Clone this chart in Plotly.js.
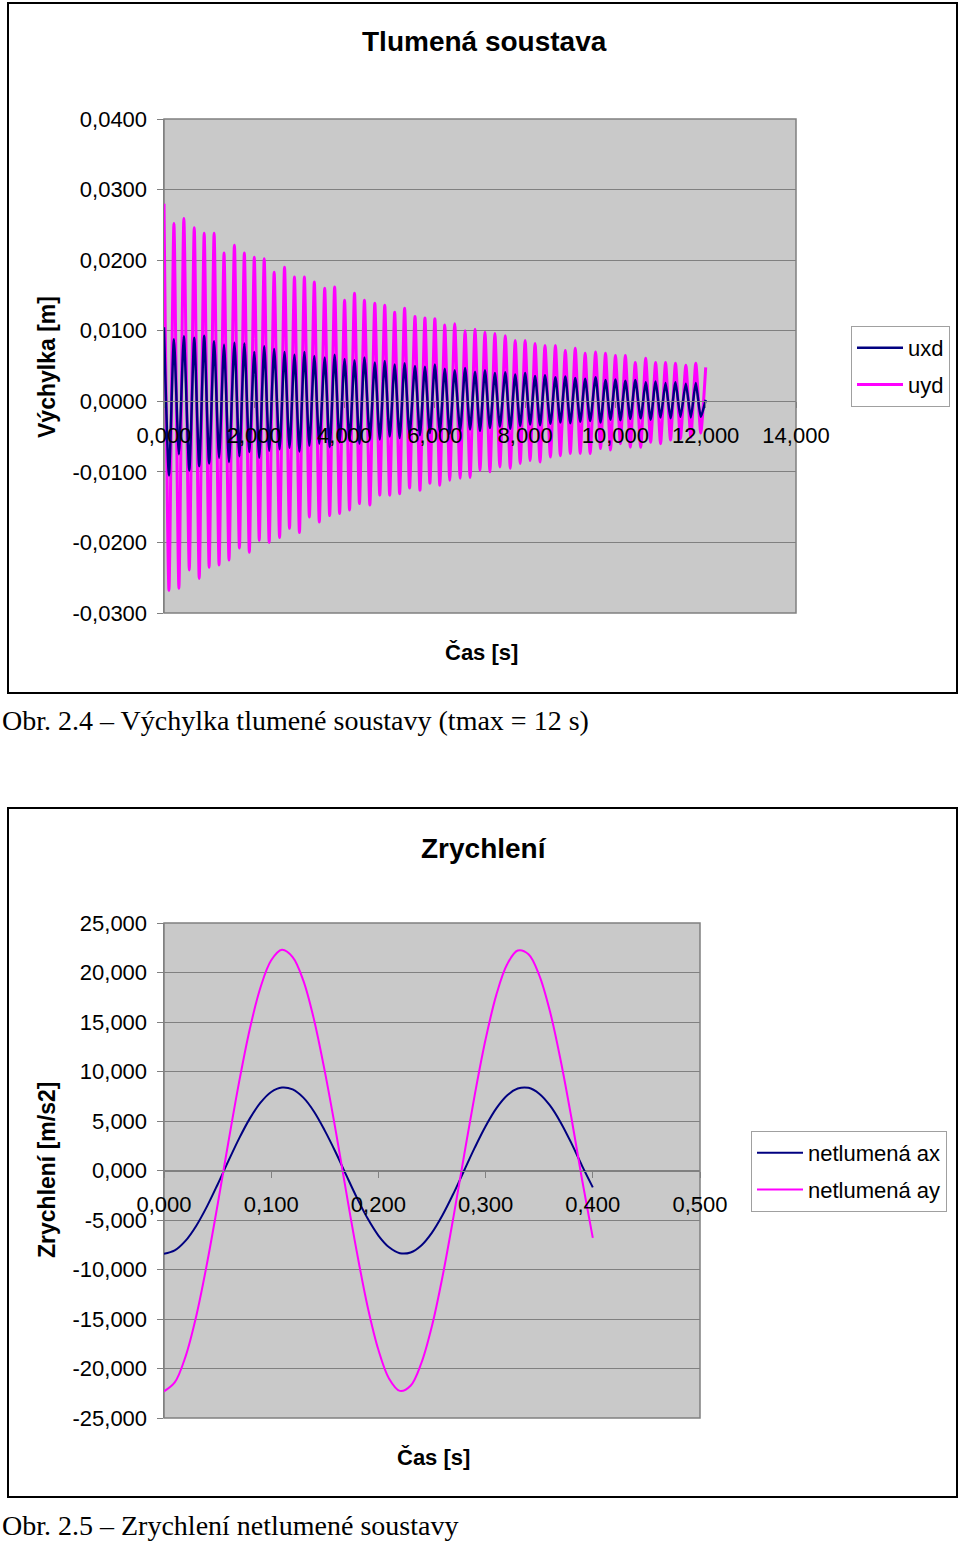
<!DOCTYPE html>
<html>
<head>
<meta charset="utf-8">
<script src="https://cdn.plot.ly/plotly-3.0.1.min.js"></script>
<style>html,body{margin:0;padding:0;background:#fff;}#chart{width:960px;height:1541px;}</style>
</head>
<body>
<div id="chart"></div>
<script>
// ---------- Chart 1: Tlumená soustava (displacement) ----------
const tTop = [0.00,0.22,0.44,0.67,0.89,1.11,1.33,1.56,1.78,2.00,2.22,2.44,2.67,2.89,3.11,3.33,3.56,3.78,4.00,4.22,4.44,4.67,4.89,5.11,5.33,5.56,5.78,6.00,6.22,6.44,6.67,6.89,7.11,7.33,7.56,7.78,8.00,8.22,8.44,8.67,8.89,9.11,9.33,9.56,9.78,10.00,10.22,10.44,10.67,10.89,11.11,11.33,11.56,11.78,12.00];
const tBottom = [0.11,0.33,0.56,0.78,1.00,1.22,1.44,1.67,1.89,2.11,2.33,2.56,2.78,3.00,3.22,3.44,3.67,3.89,4.11,4.33,4.56,4.78,5.00,5.22,5.44,5.67,5.89,6.11,6.33,6.56,6.78,7.00,7.22,7.44,7.67,7.89,8.11,8.33,8.56,8.78,9.00,9.22,9.44,9.67,9.89,10.11,10.33,10.56,10.78,11.00,11.22,11.44,11.67,11.89];

const uydTop = [0.0280,0.0252,0.0259,0.0246,0.0238,0.0238,0.0210,0.0221,0.0210,0.0204,0.0202,0.0183,0.0190,0.0176,0.0176,0.0169,0.0160,0.0162,0.0143,0.0153,0.0143,0.0139,0.0136,0.0126,0.0132,0.0120,0.0118,0.0117,0.0108,0.0110,0.0100,0.0102,0.0098,0.0096,0.0093,0.0086,0.0086,0.0082,0.0079,0.0079,0.0072,0.0075,0.0068,0.0070,0.0068,0.0065,0.0065,0.0055,0.0061,0.0055,0.0055,0.0054,0.0051,0.0054,0.0048];
const uydBottom = [-0.0268,-0.0265,-0.0239,-0.0251,-0.0235,-0.0232,-0.0225,-0.0208,-0.0214,-0.0197,-0.0200,-0.0193,-0.0180,-0.0186,-0.0164,-0.0171,-0.0162,-0.0159,-0.0154,-0.0145,-0.0147,-0.0133,-0.0133,-0.0131,-0.0123,-0.0126,-0.0116,-0.0119,-0.0112,-0.0109,-0.0108,-0.0098,-0.0100,-0.0093,-0.0095,-0.0088,-0.0084,-0.0086,-0.0079,-0.0077,-0.0074,-0.0074,-0.0074,-0.0067,-0.0069,-0.0060,-0.0065,-0.0065,-0.0058,-0.0060,-0.0055,-0.0053,-0.0051,-0.0045];

const uxdTop = [0.0105,0.0088,0.0092,0.0090,0.0093,0.0085,0.0080,0.0083,0.0082,0.0070,0.0078,0.0074,0.0070,0.0066,0.0070,0.0064,0.0062,0.0066,0.0060,0.0058,0.0062,0.0055,0.0057,0.0052,0.0054,0.0050,0.0049,0.0052,0.0046,0.0044,0.0047,0.0042,0.0044,0.0040,0.0041,0.0038,0.0040,0.0036,0.0037,0.0034,0.0035,0.0033,0.0032,0.0034,0.0030,0.0031,0.0029,0.0030,0.0027,0.0028,0.0026,0.0027,0.0025,0.0026,0.0002];
const uxdBottom = [-0.0105,-0.0075,-0.0098,-0.0092,-0.0088,-0.0080,-0.0086,-0.0078,-0.0072,-0.0080,-0.0070,-0.0068,-0.0066,-0.0071,-0.0063,-0.0060,-0.0065,-0.0058,-0.0056,-0.0060,-0.0052,-0.0054,-0.0050,-0.0052,-0.0047,-0.0048,-0.0045,-0.0043,-0.0046,-0.0041,-0.0040,-0.0042,-0.0038,-0.0036,-0.0039,-0.0035,-0.0033,-0.0034,-0.0032,-0.0030,-0.0031,-0.0029,-0.0028,-0.0030,-0.0026,-0.0027,-0.0025,-0.0024,-0.0026,-0.0023,-0.0024,-0.0022,-0.0023,-0.0022];

const x1TickVals = [0,2,4,6,8,10,12,14];
const x1TickText = ['0,000','2,000','4,000','6,000','8,000','10,000','12,000','14,000'];
const y1TickVals = [0.04,0.03,0.02,0.01,0,-0.01,-0.02,-0.03];
const y1TickText = ['0,0400','0,0300','0,0200','0,0100','0,0000','-0,0100','-0,0200','-0,0300'];

// ---------- Chart 2: Zrychlení (acceleration) ----------
const t2 = [0.00,0.01,0.02,0.03,0.04,0.05,0.06,0.07,0.08,0.09,0.10,0.11,0.12,0.13,0.14,0.15,0.16,0.17,0.18,0.19,0.20,0.21,0.22,0.23,0.24,0.25,0.26,0.27,0.28,0.29,0.30,0.31,0.32,0.33,0.34,0.35,0.36,0.37,0.38,0.39,0.40];
const ax = [-8.40,-8.07,-7.11,-5.60,-3.65,-1.41,0.94,3.22,5.24,6.85,7.93,8.38,8.19,7.36,5.94,4.03,1.87,-0.47,-2.77,-4.86,-6.57,-7.76,-8.35,-8.28,-7.57,-6.27,-4.47,-2.33,0.00,2.33,4.47,6.27,7.57,8.28,8.35,7.76,6.57,4.86,2.77,0.47,-1.70];
const ay = [-22.30,-21.41,-18.82,-14.74,-9.46,-3.46,2.83,8.90,14.27,18.49,21.23,22.29,21.56,19.18,15.21,10.01,4.13,-2.19,-8.30,-13.78,-18.11,-21.03,-22.26,-21.74,-19.47,-15.68,-10.61,-4.71,1.57,7.71,13.25,17.74,20.81,22.22,21.85,19.74,16.09,11.14,5.35,-0.93,-6.80];

const x2TickVals = [0,0.1,0.2,0.3,0.4,0.5];
const x2TickText = ['0,000','0,100','0,200','0,300','0,400','0,500'];
const y2TickVals = [25,20,15,10,5,0,-5,-10,-15,-20,-25];
const y2TickText = ['25,000','20,000','15,000','10,000','5,000','0,000','-5,000','-10,000','-15,000','-20,000','-25,000'];

// ---------- build interleaved series ----------
function interleave(tA, vA, tB, vB) {
  const t = [], v = [];
  for (let i = 0; i < tA.length; i++) {
    t.push(tA[i]); v.push(vA[i]);
    if (i < tB.length) { t.push(tB[i]); v.push(vB[i]); }
  }
  return {t, v};
}
const uxd = interleave(tTop, uxdTop, tBottom, uxdBottom);
const uyd = interleave(tTop, uydTop, tBottom, uydBottom);

const W = 960, H = 1541;
const px = x => x / W;
const py = y => 1 - y / H;

const NAVY = '#000080', MAG = '#ff00ff', GRID = '#808080';
const SANS = 'Liberation Sans, Arial, sans-serif';
const SERIF = 'Liberation Serif, Times New Roman, serif';

const traces = [
  {x: uyd.t, y: uyd.v, type: 'scatter', mode: 'lines', name: 'uyd', xaxis: 'x', yaxis: 'y',
   line: {color: MAG, width: 3, shape: 'spline', smoothing: 0.6}, legend: 'legend', legendgroup: 'b', legendrank: 2},
  {x: uxd.t, y: uxd.v, type: 'scatter', mode: 'lines', name: 'uxd', xaxis: 'x', yaxis: 'y',
   line: {color: NAVY, width: 2.5, shape: 'spline', smoothing: 0.6}, legend: 'legend', legendgroup: 'a', legendrank: 1},
  {x: t2, y: ax, type: 'scatter', mode: 'lines', name: 'netlumená ax', xaxis: 'x2', yaxis: 'y2',
   line: {color: NAVY, width: 2, shape: 'spline'}, legend: 'legend2', legendgroup: 'c', legendrank: 1},
  {x: t2, y: ay, type: 'scatter', mode: 'lines', name: 'netlumená ay', xaxis: 'x2', yaxis: 'y2',
   line: {color: MAG, width: 2, shape: 'spline'}, legend: 'legend2', legendgroup: 'd', legendrank: 2}
];

// plot areas (pixels)
const p1 = {l: 164, r: 796, t: 119, b: 613};
const p2 = {l: 164, r: 700, t: 923, b: 1418};
const y1Range = [-0.03, 0.04], y2Range = [-25, 25];
const y1Dom = [py(p1.b), py(p1.t)], y2Dom = [py(p2.b), py(p2.t)];
const zeroPos = (dom, rng) => dom[0] + (0 - rng[0]) / (rng[1] - rng[0]) * (dom[1] - dom[0]);

const tickFont = {family: SANS, size: 22, color: '#000'};

function xAxis(dom, rng, pos, vals, text) {
  return {domain: dom, range: rng, anchor: 'free', position: pos, tickmode: 'array', tickvals: vals, ticktext: text,
    showgrid: false, zeroline: false, showline: true, linecolor: GRID, linewidth: 1,
    ticks: 'outside', ticklen: 6, tickcolor: GRID, tickfont: tickFont, ticklabelstandoff: 8, fixedrange: true};
}
function yAxis(dom, rng, anchor, vals, text) {
  return {domain: dom, range: rng, anchor: anchor, tickmode: 'array', tickvals: vals, ticktext: text,
    showgrid: true, gridcolor: GRID, gridwidth: 1, zeroline: false, showline: true, linecolor: GRID, linewidth: 1.5,
    ticks: 'outside', ticklen: 6, tickcolor: GRID, tickfont: tickFont, ticklabelstandoff: 5, fixedrange: true};
}

const boxLine = {color: '#000', width: 2};
const ann = (text, x, y, opts) => Object.assign({text, x: px(x), y: py(y), xref: 'paper', yref: 'paper',
  showarrow: false, xanchor: 'center', yanchor: 'middle', font: {family: SANS, size: 23, color: '#000'}}, opts || {});

const legendStyle = {xanchor: 'left', yanchor: 'top', bgcolor: '#fff', bordercolor: '#a0a0a0', borderwidth: 1,
  font: {family: SANS, size: 22, color: '#000'}, itemwidth: 46, tracegroupgap: 5, traceorder: 'grouped'};

const layout = {
  width: W, height: H, margin: {l: 0, r: 0, t: 0, b: 0}, paper_bgcolor: '#fff', plot_bgcolor: '#c9c9c9',
  font: {family: SANS, size: 22, color: '#000'},
  showlegend: true,
  xaxis: xAxis([px(p1.l), px(p1.r)], [0, 14], zeroPos(y1Dom, y1Range), x1TickVals, x1TickText),
  yaxis: yAxis(y1Dom, y1Range, 'x', y1TickVals, y1TickText),
  xaxis2: xAxis([px(p2.l), px(p2.r)], [0, 0.5], zeroPos(y2Dom, y2Range), x2TickVals, x2TickText),
  yaxis2: yAxis(y2Dom, y2Range, 'x2', y2TickVals, y2TickText),
  legend: Object.assign({x: px(851), y: py(326)}, legendStyle),
  legend2: Object.assign({x: px(751), y: py(1131)}, legendStyle),
  shapes: [
    {type: 'rect', xref: 'paper', yref: 'paper', x0: px(8), x1: px(957), y0: py(693), y1: py(3), line: boxLine},
    {type: 'rect', xref: 'paper', yref: 'paper', x0: px(8), x1: px(957), y0: py(1497), y1: py(808), line: boxLine},
    {type: 'rect', xref: 'x domain', yref: 'y domain', x0: 0, x1: 1, y0: 0, y1: 1, line: {color: GRID, width: 1.5}, layer: 'below'},
    {type: 'rect', xref: 'x2 domain', yref: 'y2 domain', x0: 0, x1: 1, y0: 0, y1: 1, line: {color: GRID, width: 1.5}, layer: 'below'}
  ],
  annotations: [
    ann('<b>Tlumená soustava</b>', 484, 42, {font: {family: SANS, size: 28, color: '#000'}}),
    ann('<b>Výchylka [m]</b>', 47, 367, {textangle: -90}),
    ann('<b>Čas [s]</b>', 481, 652, {font: {family: SANS, size: 22, color: '#000'}}),
    ann('Obr. 2.4 – Výchylka tlumené soustavy (tmax = 12 s)', 0, 720, {xanchor: 'left', font: {family: SERIF, size: 28, color: '#000'}}),
    ann('<b>Zrychlení</b>', 484, 848, {font: {family: SANS, size: 28, color: '#000'}}),
    ann('<b>Zrychlení [m/s2]</b>', 47, 1170, {textangle: -90}),
    ann('<b>Čas [s]</b>', 433, 1457, {font: {family: SANS, size: 22, color: '#000'}}),
    ann('Obr. 2.5 – Zrychlení netlumené soustavy', 0, 1525, {xanchor: 'left', font: {family: SERIF, size: 28, color: '#000'}})
  ]
};

Plotly.newPlot('chart', traces, layout, {staticPlot: true, displayModeBar: false});
</script>
</body>
</html>
